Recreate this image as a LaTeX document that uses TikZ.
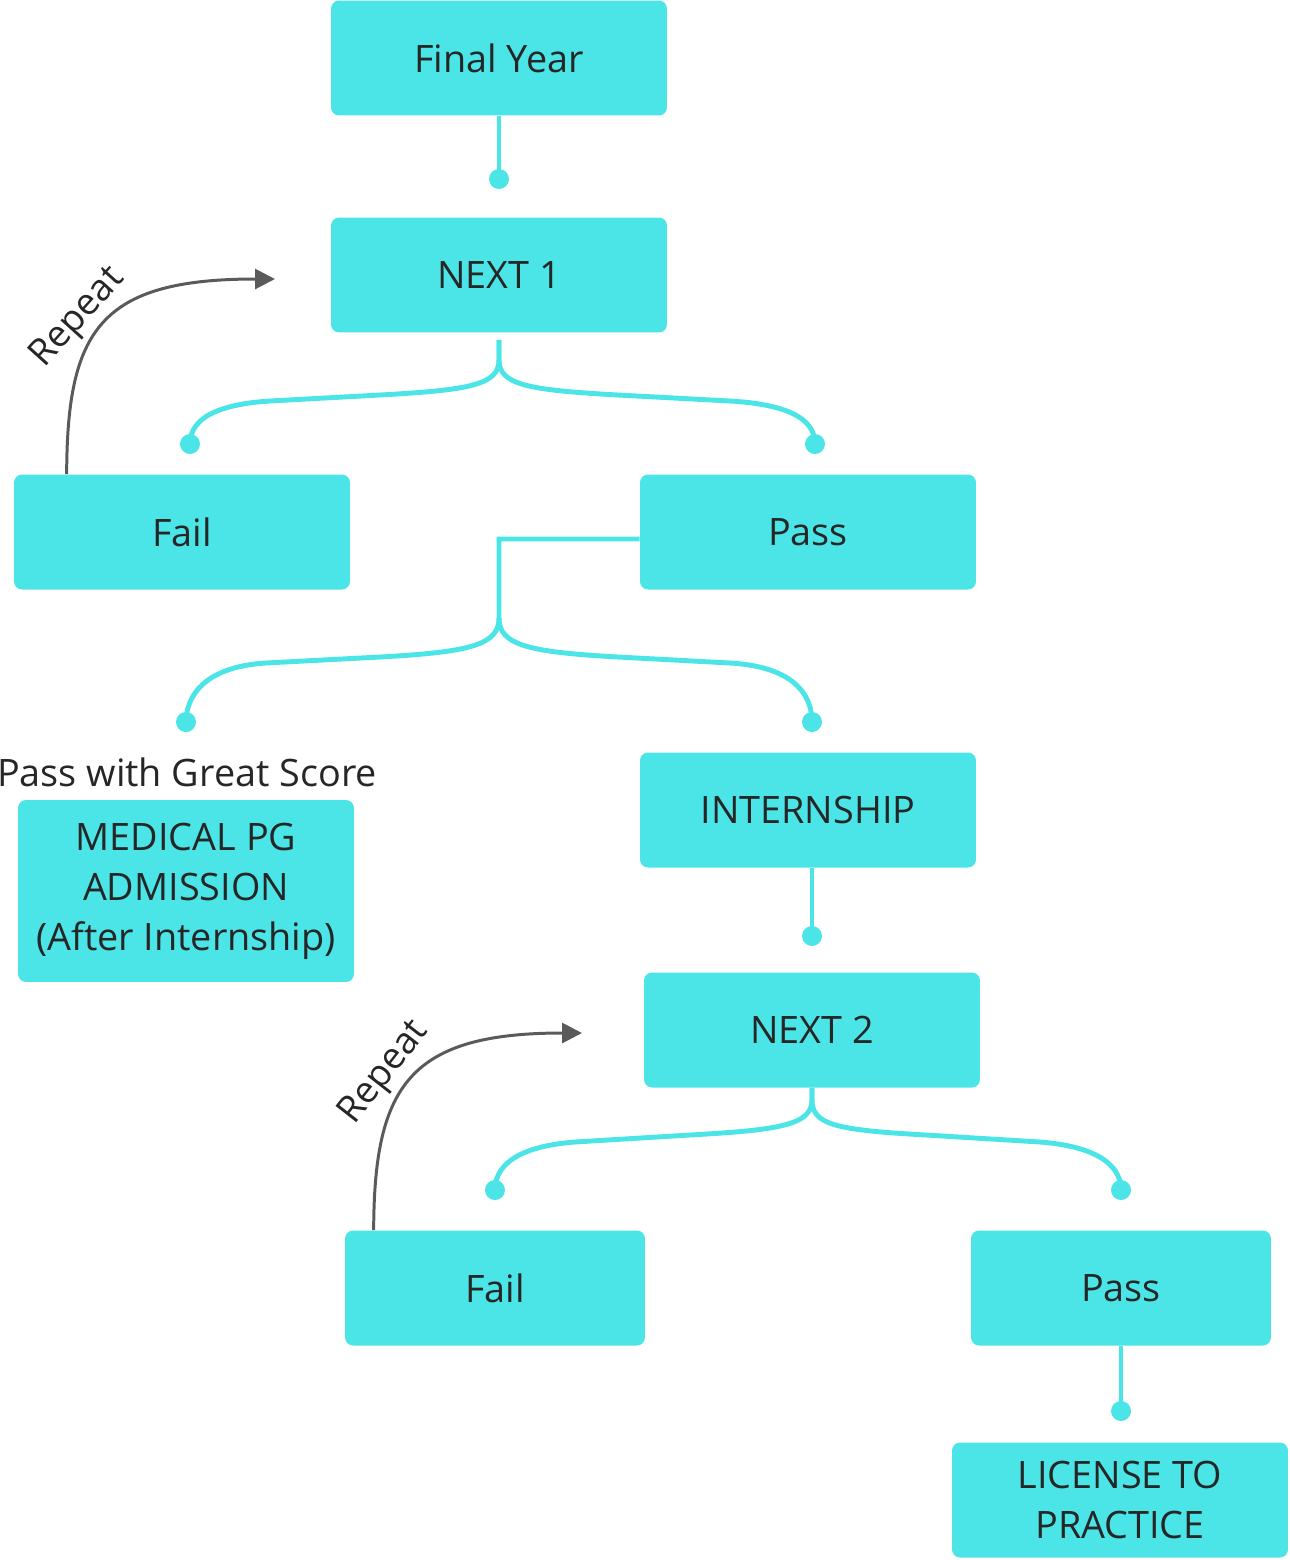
\documentclass[tikz,border=0pt]{standalone}
\usepackage{fontspec}
\setmainfont{Open Sans}
\usetikzlibrary{arrows.meta}
\definecolor{aqua}{HTML}{4BE5E8}
\definecolor{ink}{HTML}{262626}
\definecolor{loopgray}{HTML}{5A5A5A}

\begin{document}
\begin{tikzpicture}[x=0.02cm, y=-0.02cm,
    stage/.style={fill=aqua, rounded corners=0.16cm, minimum width=6.72cm, minimum height=2.3cm,
      text=ink, font=\fontsize{21.5}{28.5}\selectfont, align=center, inner sep=0pt},
    narrow/.style={stage, minimum width=6cm},
    dot/.style={circle, fill=aqua, minimum size=0.4cm, inner sep=0pt},
    link/.style={draw=aqua, line width=2.8pt},
    again/.style={draw=loopgray, line width=1.7pt, -{Triangle[length=0.4cm, width=0.4cm]}},
    loopnote/.style={text=ink, font=\fontsize{21}{24}\selectfont, inner sep=0pt}]
  \useasboundingbox (0,0) rectangle (1290,1560);
  % boxes
  \node[stage] (fy) at (499,58) {Final Year};
  \node[stage] (n1) at (499,275) {NEXT 1};
  \node[stage] (fail1) at (182,532) {Fail};
  \node[stage] (pass1) at (808,532) {Pass};
  \node[stage, minimum height=3.64cm] (pg) at (186,891) {MEDICAL PG\\ADMISSION\\(After Internship)};
  \node[stage] (intern) at (808,810) {INTERNSHIP};
  \node[stage] (n2) at (812,1030) {NEXT 2};
  \node[narrow] (fail2) at (495,1288) {Fail};
  \node[narrow] (pass2) at (1121,1288) {Pass};
  \node[stage] (lic) at (1120,1500) {LICENSE TO\\PRACTICE};
  \node[text=ink, font=\fontsize{21.5}{24}\selectfont, inner sep=0pt] (great) at (187,772) {Pass with Great Score};
  % dots
  \node[dot] (d1) at (499,179) {};
  \node[dot] (d2) at (190,444) {};
  \node[dot] (d3) at (815,444) {};
  \node[dot] (d4) at (186,722) {};
  \node[dot] (d5) at (812,722) {};
  \node[dot] (d6) at (812,936) {};
  \node[dot] (d7) at (495,1190) {};
  \node[dot] (d8) at (1121,1190) {};
  \node[dot] (d9) at (1121,1411) {};
  \coordinate (r1) at (275,279);
  \coordinate (r2) at (582,1033);
  % straight links
  \draw[link] (fy.south) -- (d1.center);
  \draw[link] (intern.south -| d6) -- (d6.center);
  \draw[link] (pass2.south) -- (d9.center);
  % branching links
  \draw[link] ([yshift=-0.14cm]n1.south) -- ++(0,20) .. controls +(0,25) and (470,390) .. (380,395)
    -- (270,401) .. controls (205,405) and (190,425) .. (d2.center);
  \draw[link] ([yshift=-0.14cm]n1.south) -- ++(0,20) .. controls +(0,25) and (528,390) .. (618,395)
    -- (730,401) .. controls (800,405) and (815,425) .. (d3.center);
  \draw[link] ([yshift=-0.14cm]pass1.west) -- (499,539) -- (499,618) .. controls (499,645) and (470,652) .. (380,657)
    -- (266,663) .. controls (200,667) and (186,700) .. (d4.center);
  \draw[link] (499,618) .. controls (499,645) and (528,652) .. (618,657)
    -- (730,663) .. controls (800,667) and (812,700) .. (d5.center);
  \draw[link] (n2.south) -- ++(0,12) .. controls +(0,25) and (780,1130) .. (690,1135)
    -- (575,1142) .. controls (510,1147) and (495,1170) .. (d7.center);
  \draw[link] (n2.south) -- ++(0,12) .. controls +(0,25) and (836,1130) .. (926,1135)
    -- (1040,1142) .. controls (1105,1147) and (1121,1170) .. (d8.center);
  % repeat loops
  \draw[again] ([xshift=1.06cm]fail1.north west) .. controls (67,330) and (100,279) .. (r1);
  \node[loopnote, rotate=48] (rep1) at (78,318) {Repeat};
  \draw[again] ([xshift=0.58cm]fail2.north west) .. controls (374,1085) and (410,1033) .. (r2);
  \node[loopnote, rotate=52] (rep2) at (385,1073) {Repeat};
\end{tikzpicture}
\end{document}
